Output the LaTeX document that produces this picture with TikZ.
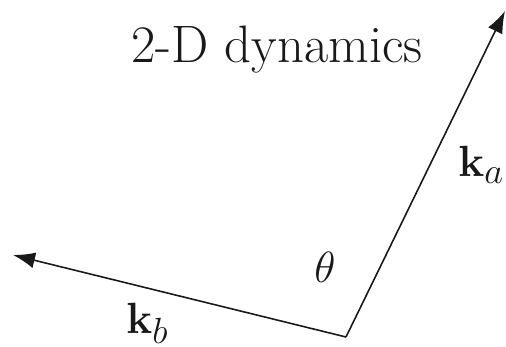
\documentclass[tikz,border=0pt]{standalone}
\usetikzlibrary{arrows.meta}
\definecolor{figdark}{gray}{0.1}
\tikzset{
  vecline/.style={-{Latex[length=4.4mm,width=3.2mm]}, line width=0.9pt, draw=figdark, fill=figdark},
  biglabel/.style={font=\fontsize{30}{36}\selectfont, inner sep=0pt, text=figdark}
}

\begin{document}
\begin{tikzpicture}[x=0.02cm, y=-0.02cm]
  \useasboundingbox (0,0) rectangle (506,347);

  \coordinate (origin) at (346,337);
  \coordinate (tipa) at (505,11);
  \coordinate (tipb) at (13,255);

  \draw[vecline] (origin) -- (tipa);
  \draw[vecline] (origin) -- (tipb);

  \node[biglabel, anchor=base] (title) at (277,63) {2-D dynamics};
  \node[biglabel, anchor=base west] (ka) at (458,177) {$\mathbf{k}_a$};
  \node[biglabel, anchor=base west] (kb) at (126,333) {$\mathbf{k}_b$};
  \node[biglabel, anchor=base] (angle) at (325,282) {$\theta$};
\end{tikzpicture}
\end{document}
